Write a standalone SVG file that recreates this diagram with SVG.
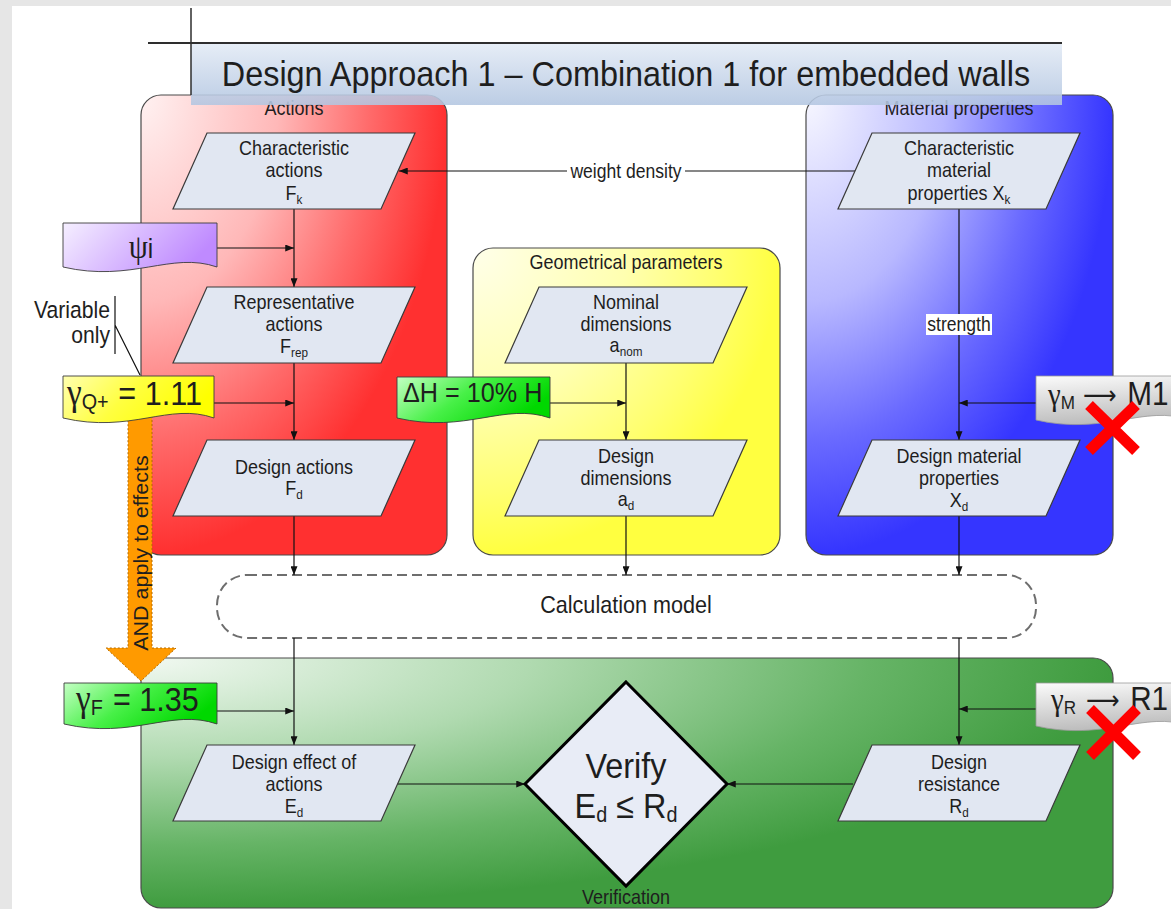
<svg xmlns="http://www.w3.org/2000/svg" width="1171" height="909" viewBox="0 0 1171 909">
  <defs>
    <style>
      text { font-family: "Liberation Sans", Arial, sans-serif; fill: #1e1e1e; }
      .t { font-size: 20px; text-anchor: middle; }
      .sub { font-size: 13px; }
      .g { font-family: "Liberation Serif", "Times New Roman", serif; }
      .arrowglyph { font-family: "DejaVu Sans", sans-serif; }
      .par { fill: #e1e7f2; stroke: #3a3a3a; stroke-width: 1.2; }
      .panel { stroke: #4a4a4a; stroke-width: 1.2; }
      .conn { fill: none; stroke: #111; stroke-width: 1.2; marker-end: url(#ah); }
      .line { fill: none; stroke: #111; stroke-width: 1.2; }
      .flag { stroke: #3c3c3c; stroke-width: 0.9; }
      .cross { fill: none; stroke: #ff0000; stroke-width: 11; }
    </style>
    <marker id="ah" viewBox="0 0 10 8" refX="10" refY="4" markerWidth="9" markerHeight="7" markerUnits="userSpaceOnUse" orient="auto">
      <path d="M0,0 L10,4 L0,8 Z" fill="#111"/>
    </marker>
    <radialGradient id="gRed" cx="0" cy="0" r="1">
      <stop offset="0" stop-color="#fff2f2"/>
      <stop offset="0.45" stop-color="#ffb8b8"/>
      <stop offset="0.75" stop-color="#ff6a6a"/>
      <stop offset="1" stop-color="#ff3030"/>
    </radialGradient>
    <radialGradient id="gBlue" cx="0" cy="0" r="1">
      <stop offset="0" stop-color="#f8f8ff"/>
      <stop offset="0.45" stop-color="#b8b8ff"/>
      <stop offset="0.75" stop-color="#6a6aff"/>
      <stop offset="1" stop-color="#3535ff"/>
    </radialGradient>
    <radialGradient id="gYellow" cx="0" cy="0" r="1">
      <stop offset="0" stop-color="#ffffea"/>
      <stop offset="0.5" stop-color="#ffffb0"/>
      <stop offset="0.8" stop-color="#ffff70"/>
      <stop offset="1" stop-color="#ffff40"/>
    </radialGradient>
    <radialGradient id="gGreen" cx="0" cy="0" r="1">
      <stop offset="0" stop-color="#f2f9f2"/>
      <stop offset="0.4" stop-color="#b0dab0"/>
      <stop offset="0.75" stop-color="#66b466"/>
      <stop offset="1" stop-color="#3f9c3f"/>
    </radialGradient>
    <linearGradient id="gTitle" x1="0" y1="0" x2="0" y2="1">
      <stop offset="0" stop-color="#e2eaf5"/>
      <stop offset="1" stop-color="#b3c6e1"/>
    </linearGradient>
    <linearGradient id="gPsi" x1="0" y1="0" x2="1" y2="0.3">
      <stop offset="0" stop-color="#f5efff"/>
      <stop offset="1" stop-color="#bf8aff"/>
    </linearGradient>
    <linearGradient id="gYel" x1="0" y1="0" x2="1" y2="0.3">
      <stop offset="0" stop-color="#ffffb0"/>
      <stop offset="0.5" stop-color="#ffff40"/>
      <stop offset="1" stop-color="#ffff00"/>
    </linearGradient>
    <linearGradient id="gGrn" x1="0" y1="0" x2="1" y2="0.4">
      <stop offset="0" stop-color="#c4ffc4"/>
      <stop offset="0.5" stop-color="#48f048"/>
      <stop offset="1" stop-color="#00d800"/>
    </linearGradient>
    <linearGradient id="gGray" x1="0" y1="0" x2="0.2" y2="1">
      <stop offset="0" stop-color="#fbfbfb"/>
      <stop offset="1" stop-color="#bdbdbd"/>
    </linearGradient>
  </defs>

  <!-- page -->
  <rect width="1171" height="909" fill="#e6e6e6"/>
  <rect x="12" y="6" width="1159" height="903" fill="#ffffff"/>

  <!-- panels -->
  <g id="panel-actions">
    <rect class="panel" x="141" y="95" width="306" height="460" rx="20" fill="url(#gRed)"/>
    <text class="t" transform="translate(294,115) scale(.9 1)">Actions</text>
  </g>
  <g id="panel-material">
    <rect class="panel" x="806" y="95" width="307" height="460" rx="20" fill="url(#gBlue)"/>
    <text class="t" transform="translate(959,115) scale(.9 1)">Material properties</text>
  </g>
  <g id="panel-geometry">
    <rect class="panel" x="473" y="248" width="307" height="307" rx="20" fill="url(#gYellow)"/>
    <text class="t" transform="translate(626,269) scale(.9 1)">Geometrical parameters</text>
  </g>
  <g id="panel-verification">
    <rect class="panel" x="141" y="658" width="972" height="250" rx="20" fill="url(#gGreen)"/>
    <text class="t" transform="translate(626,904) scale(.9 1)">Verification</text>
  </g>

  <!-- title -->
  <g id="title">
    <rect x="191" y="44" width="871" height="61" fill="url(#gTitle)" opacity="0.88"/>
    <line x1="148" y1="43" x2="1062" y2="43" stroke="#2e2e2e" stroke-width="2"/>
    <line x1="191" y1="8" x2="191" y2="95" stroke="#2e2e2e" stroke-width="1.5"/>
    <text transform="translate(626,86) scale(.9 1)" font-size="36" text-anchor="middle" fill="#222">Design Approach 1 – Combination 1 for embedded walls</text>
  </g>

  <!-- calculation model -->
  <g id="calc-model">
    <rect x="217" y="575" width="819" height="63" rx="30" fill="#ffffff" stroke="#6e6e6e" stroke-width="2" stroke-dasharray="10 5"/>
    <text transform="translate(626,613) scale(.9 1)" font-size="24" text-anchor="middle">Calculation model</text>
  </g>

  <!-- orange hint arrow -->
  <g id="effects-arrow">
    <path d="M128,416 H152 V648 H176 L141,681 L106,648 H128 Z" fill="#ff9a00" stroke="#b36b00" stroke-width="1" stroke-dasharray="2 2"/>
    <text transform="translate(148,553) rotate(-90) scale(1 .9)" font-size="21.5" text-anchor="middle">AND apply to effects</text>
  </g>

  <!-- connectors -->
  <g id="connectors">
    <path class="conn" d="M294,209 V287"/>
    <path class="conn" d="M217,248 H294"/>
    <path class="conn" d="M294,363 V440"/>
    <path class="conn" d="M214,403 H294"/>
    <path class="conn" d="M294,516 V575"/>
    <path class="conn" d="M626,363 V440"/>
    <path class="conn" d="M550,403 H626"/>
    <path class="conn" d="M626,516 V575"/>
    <path class="conn" d="M959,209 V440"/>
    <path class="conn" d="M1036,403 H959"/>
    <path class="conn" d="M959,516 V575"/>
    <path class="conn" d="M855,171 H399"/>
    <path class="conn" d="M294,638 V745"/>
    <path class="conn" d="M217,711 H294"/>
    <path class="conn" d="M959,638 V745"/>
    <path class="conn" d="M1036,709 H959"/>
    <path class="conn" d="M397,784 H525"/>
    <path class="conn" d="M853,784 H727"/>
    <!-- connector labels -->
    <rect x="567" y="161" width="118" height="21" fill="#ffffff"/>
    <text transform="translate(626,178) scale(.9 1)" font-size="19.5" text-anchor="middle">weight density</text>
    <rect x="926" y="314" width="66" height="21" fill="#ffffff"/>
    <text transform="translate(959,331) scale(.9 1)" font-size="19.5" text-anchor="middle">strength</text>
  </g>

  <!-- data nodes -->
  <g id="node-Fk">
    <polygon class="par" points="207,133 415,133 381,209 173,209"/>
    <text class="t" transform="translate(294,155) scale(.9 1)">Characteristic</text>
    <text class="t" transform="translate(294,177) scale(.9 1)">actions</text>
    <text class="t" transform="translate(294,200) scale(.9 1)">F<tspan class="sub" dy="4">k</tspan></text>
  </g>
  <g id="node-Frep">
    <polygon class="par" points="207,287 415,287 381,363 173,363"/>
    <text class="t" transform="translate(294,309) scale(.9 1)">Representative</text>
    <text class="t" transform="translate(294,331) scale(.9 1)">actions</text>
    <text class="t" transform="translate(294,353) scale(.9 1)">F<tspan class="sub" dy="4">rep</tspan></text>
  </g>
  <g id="node-Fd">
    <polygon class="par" points="207,440 415,440 381,516 173,516"/>
    <text class="t" transform="translate(294,474) scale(.9 1)">Design actions</text>
    <text class="t" transform="translate(294,495) scale(.9 1)">F<tspan class="sub" dy="4">d</tspan></text>
  </g>
  <g id="node-anom">
    <polygon class="par" points="539,287 747,287 713,363 505,363"/>
    <text class="t" transform="translate(626,309) scale(.9 1)">Nominal</text>
    <text class="t" transform="translate(626,331) scale(.9 1)">dimensions</text>
    <text class="t" transform="translate(626,352) scale(.9 1)">a<tspan class="sub" dy="4">nom</tspan></text>
  </g>
  <g id="node-ad">
    <polygon class="par" points="539,440 747,440 713,516 505,516"/>
    <text class="t" transform="translate(626,463) scale(.9 1)">Design</text>
    <text class="t" transform="translate(626,485) scale(.9 1)">dimensions</text>
    <text class="t" transform="translate(626,506) scale(.9 1)">a<tspan class="sub" dy="4">d</tspan></text>
  </g>
  <g id="node-Xk">
    <polygon class="par" points="872,133 1080,133 1046,209 838,209"/>
    <text class="t" transform="translate(959,155) scale(.9 1)">Characteristic</text>
    <text class="t" transform="translate(959,177) scale(.9 1)">material</text>
    <text class="t" transform="translate(959,200) scale(.9 1)">properties X<tspan class="sub" dy="4">k</tspan></text>
  </g>
  <g id="node-Xd">
    <polygon class="par" points="872,440 1080,440 1046,516 838,516"/>
    <text class="t" transform="translate(959,463) scale(.9 1)">Design material</text>
    <text class="t" transform="translate(959,485) scale(.9 1)">properties</text>
    <text class="t" transform="translate(959,507) scale(.9 1)">X<tspan class="sub" dy="4">d</tspan></text>
  </g>
  <g id="node-Ed">
    <polygon class="par" points="207,745 415,745 381,821 173,821"/>
    <text class="t" transform="translate(294,769) scale(.9 1)">Design effect of</text>
    <text class="t" transform="translate(294,791) scale(.9 1)">actions</text>
    <text class="t" transform="translate(294,813) scale(.9 1)">E<tspan class="sub" dy="4">d</tspan></text>
  </g>
  <g id="node-Rd">
    <polygon class="par" points="872,745 1080,745 1046,821 838,821"/>
    <text class="t" transform="translate(959,769) scale(.9 1)">Design</text>
    <text class="t" transform="translate(959,791) scale(.9 1)">resistance</text>
    <text class="t" transform="translate(959,813) scale(.9 1)">R<tspan class="sub" dy="4">d</tspan></text>
  </g>

  <!-- decision -->
  <g id="node-verify">
    <polygon points="626,682 727,784 626,886 525,784" fill="#e8ecf6" stroke="#000" stroke-width="3"/>
    <text transform="translate(626,778) scale(.9 1)" font-size="36" text-anchor="middle">Verify</text>
    <text transform="translate(626,818) scale(.9 1)" font-size="36" text-anchor="middle">E<tspan font-size="22" dy="4">d</tspan><tspan dy="-4"> ≤ R</tspan><tspan font-size="22" dy="4">d</tspan></text>
  </g>

  <!-- partial factor flags -->
  <g id="flag-psi">
    <path class="flag" d="M63,223 H217 V267 C171,251 132,283 63,267 Z" fill="url(#gPsi)"/>
    <text transform="translate(141,258) scale(.9 1)" text-anchor="middle"><tspan class="g" font-size="34">ψ</tspan><tspan font-size="27">i</tspan></text>
  </g>
  <g id="flag-gammaQ">
    <path class="flag" d="M63,376 H214 V418 C169,402 131,434 63,418 Z" fill="url(#gYel)"/>
    <text transform="translate(67,405) scale(.9 1)"><tspan class="g" font-size="37">γ</tspan><tspan font-size="22" dy="4">Q+</tspan><tspan x="57" dy="-4" font-size="34">= 1.11</tspan></text>
  </g>
  <g id="flag-deltaH">
    <path class="flag" d="M397,377 H550 V418 C504,402 466,434 397,418 Z" fill="url(#gGrn)"/>
    <text transform="translate(403,402) scale(.9 1)" font-size="28">ΔH = 10% H</text>
  </g>
  <g id="flag-gammaF">
    <path class="flag" d="M64,683 H217 V724 C171,708 133,740 64,724 Z" fill="url(#gGrn)"/>
    <text transform="translate(76,711) scale(.9 1)"><tspan class="g" font-size="37">γ</tspan><tspan font-size="22" dy="4">F</tspan><tspan x="41" dy="-4" font-size="34">= 1.35</tspan></text>
  </g>
  <g id="flag-gammaM">
    <path d="M1036,376 H1190 V420 C1144,404 1105,436 1036,420 Z" fill="url(#gGray)" stroke="#9a9a9a" stroke-width="0.8"/>
    <text transform="translate(1048,405) scale(.9 1)"><tspan class="g" font-size="32">γ</tspan><tspan font-size="19" dy="4">M</tspan><tspan class="arrowglyph" x="39" dy="-5" font-size="26">⟶</tspan><tspan x="88" dy="1" font-size="33">M1</tspan></text>
    <path class="cross" d="M1089,405 L1136,451 M1136,405 L1089,451"/>
  </g>
  <g id="flag-gammaR">
    <path d="M1036,683 H1190 V726 C1144,710 1105,742 1036,726 Z" fill="url(#gGray)" stroke="#9a9a9a" stroke-width="0.8"/>
    <text transform="translate(1051,710) scale(.9 1)"><tspan class="g" font-size="32">γ</tspan><tspan font-size="19" dy="4">R</tspan><tspan class="arrowglyph" x="39" dy="-5" font-size="26">⟶</tspan><tspan x="88" dy="1" font-size="33">R1</tspan></text>
    <path class="cross" d="M1090,709 L1137,756 M1137,709 L1090,756"/>
  </g>

  <!-- note on the variable-actions factor -->
  <g id="note-variable">
    <text transform="translate(110,318) scale(.9 1)" font-size="23.5" text-anchor="end">Variable</text>
    <text transform="translate(110,343) scale(.9 1)" font-size="23.5" text-anchor="end">only</text>
    <path class="line" d="M115,296 V354 M115,325 L140,375" stroke="#333"/>
  </g>
</svg>
